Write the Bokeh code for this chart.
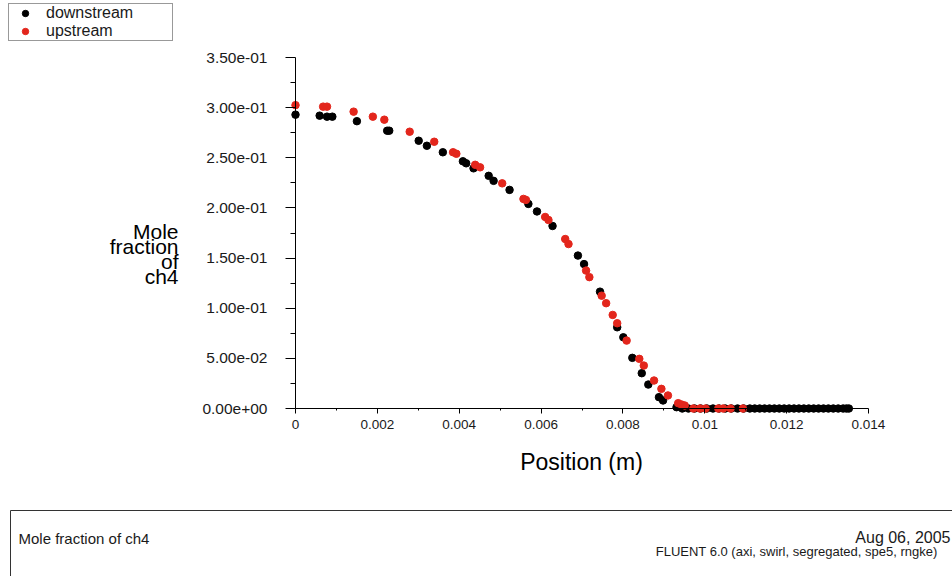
from bokeh.plotting import figure
from bokeh.models import (Range1d, FixedTicker, CustomJSTickFormatter, Label,
                          Legend, LegendItem, LinearAxis)
from bokeh.embed import file_html
from bokeh.resources import INLINE

FONT = "Liberation Sans"

# ---------------- data ----------------
down_x = [0.0, 0.00059, 0.00077, 0.0009, 0.0015, 0.00224, 0.00229, 0.00301,
          0.00321, 0.0036, 0.00409, 0.00417, 0.00435, 0.00472, 0.00484,
          0.00523, 0.00569, 0.0059, 0.00628, 0.0069, 0.00705, 0.00744,
          0.00786, 0.00801, 0.00823, 0.00846, 0.00862, 0.00888, 0.00898,
          0.00931, 0.00945, 0.0096, 0.00975, 0.0099, 0.01005, 0.0102,
          0.01035, 0.0105, 0.01065, 0.0108, 0.01095, 0.0111, 0.01122,
          0.01134, 0.01146, 0.01158, 0.0117, 0.01182, 0.01194, 0.01206,
          0.01218, 0.0123, 0.01242, 0.01254, 0.01266, 0.01278, 0.0129,
          0.01302, 0.01314, 0.01326, 0.01338, 0.01346, 0.01352]
down_y = [0.293, 0.292, 0.291, 0.291, 0.2865, 0.277, 0.277, 0.267,
          0.262, 0.2555, 0.2465, 0.2445, 0.2395, 0.232, 0.227,
          0.218, 0.204, 0.1965, 0.182, 0.1525, 0.144, 0.1165,
          0.081, 0.071, 0.0505, 0.0352, 0.0239, 0.0113, 0.008,
          0.0013, 0.0, 0.0, 0.0, 0.0, 0.0, 0.0,
          0.0, 0.0, 0.0, 0.0, 0.0, 0.0, 0.0,
          0.0, 0.0, 0.0, 0.0, 0.0, 0.0, 0.0,
          0.0, 0.0, 0.0, 0.0, 0.0, 0.0, 0.0,
          0.0, 0.0, 0.0, 0.0, 0.0, 0.0]

up_x = [0.0, 0.000675, 0.00077, 0.00142, 0.00189, 0.00217, 0.00279, 0.00339,
        0.00385, 0.00393, 0.00439, 0.00451, 0.00505, 0.00557, 0.00563,
        0.0061, 0.00618, 0.00659, 0.00667, 0.0071, 0.00718, 0.00748,
        0.00759, 0.00775, 0.00786, 0.00809, 0.0084, 0.00851, 0.00876,
        0.00894, 0.0091, 0.00935, 0.00943, 0.00951, 0.00972, 0.00988,
        0.01002, 0.01033, 0.01045, 0.01063, 0.01093]
up_y = [0.3025, 0.301, 0.301, 0.296, 0.291, 0.288, 0.276, 0.266,
        0.2555, 0.254, 0.243, 0.2405, 0.2245, 0.209, 0.208,
        0.191, 0.188, 0.169, 0.164, 0.1375, 0.131, 0.1125,
        0.105, 0.0933, 0.085, 0.0677, 0.0495, 0.0428, 0.0279,
        0.0196, 0.013, 0.0053, 0.004, 0.003, 0.0, 0.0,
        0.0, 0.0, 0.0, 0.0, 0.0]

series_names = ["downstream", "upstream"]
x_ticks = [0.0, 0.002, 0.004, 0.006, 0.008, 0.010, 0.012, 0.014]
x_minor = [0.001, 0.003, 0.005, 0.007, 0.009, 0.011, 0.013]
y_ticks = [0.0, 0.05, 0.10, 0.15, 0.20, 0.25, 0.30, 0.35]
y_minor = [0.025, 0.075, 0.125, 0.175, 0.225, 0.275, 0.325]
y_title_lines = ["Mole", "fraction", "of", "ch4"]
x_title = "Position (m)"
footer_left = "Mole fraction of ch4"
footer_date = "Aug 06, 2005"
footer_info = "FLUENT 6.0 (axi, swirl, segregated, spe5, rngke)"

# ---------------- page geometry (canvas px) ----------------
W, H = 952, 576
X0PX, X1PX = 295, 868      # where x = 0 and x = 0.014 fall
Y0PX, Y1PX = 408, 57       # where y = 0 and y = 0.35 fall
XMAX, YMAX = 0.014, 0.35
kx = XMAX / (X1PX - X0PX)
ky = YMAX / (Y0PX - Y1PX)
x_start, x_end = -X0PX * kx, XMAX + (W - X1PX) * kx
y_start, y_end = -(H - Y0PX) * ky, YMAX + Y1PX * ky


def dx(cx):
    return x_start + cx * kx


def dy(cy):
    return y_start + (H - cy) * ky


p = figure(width=W, height=H, output_backend="svg", toolbar_location=None,
           x_range=Range1d(x_start, x_end), y_range=Range1d(y_start, y_end),
           x_axis_location=None, y_axis_location=None,
           min_border=0, min_border_left=0, min_border_right=0,
           min_border_top=0, min_border_bottom=0)
p.xgrid.visible = False
p.ygrid.visible = False
p.outline_line_color = None
p.background_fill_color = "white"
p.border_fill_color = "white"

r_down = p.scatter(down_x, down_y, marker="circle", size=7.5,
                   fill_color="black", line_color="black")
r_up = p.scatter(up_x, up_y, marker="circle", size=7.5,
                 fill_color="#e3261c", line_color="#e3261c")

xa = LinearAxis(fixed_location=0, bounds=(0, XMAX))
xa.ticker = FixedTicker(ticks=x_ticks, minor_ticks=x_minor)
xa.formatter = CustomJSTickFormatter(code="return String(parseFloat(tick.toFixed(4)));")
xa.major_tick_out = 5
xa.major_tick_in = 0
xa.minor_tick_out = 2
xa.minor_tick_in = 0
xa.major_label_standoff = 6
xa.axis_line_color = "black"
xa.major_tick_line_color = "black"
xa.minor_tick_line_color = "black"
xa.major_label_text_font = FONT
xa.major_label_text_font_size = "13.5px"
xa.major_label_text_color = "#1a1a1a"
p.add_layout(xa, "below")

ya = LinearAxis(fixed_location=0, bounds=(0, YMAX))
ya.ticker = FixedTicker(ticks=y_ticks, minor_ticks=y_minor)
ya.formatter = CustomJSTickFormatter(code="""
if (Math.abs(tick) < 1e-12) { return "0.00e+00"; }
var e = Math.floor(Math.log10(Math.abs(tick)) + 1e-9);
var m = tick / Math.pow(10, e);
var s = e < 0 ? "-" : "+";
var a = Math.abs(e);
return m.toFixed(2) + "e" + s + (a < 10 ? "0" : "") + a;
""")
ya.major_tick_out = 10
ya.major_tick_in = 0
ya.minor_tick_out = 5
ya.minor_tick_in = 0
ya.major_label_standoff = 18
ya.axis_line_color = "black"
ya.major_tick_line_color = "black"
ya.minor_tick_line_color = "black"
ya.major_label_text_font = FONT
ya.major_label_text_font_size = "15.5px"
ya.major_label_text_color = "#1a1a1a"
p.add_layout(ya, "left")

# y axis title (stacked lines)
for line, base in zip(y_title_lines, [231, 246, 261, 276]):
    p.add_layout(Label(x=dx(178), y=dy(base), text=line, text_align="right",
                       text_baseline="alphabetic", text_font=FONT,
                       text_font_size="21px", text_color="black"))

# x axis title
p.add_layout(Label(x=dx(581), y=dy(461), text=x_title, text_align="center",
                   text_baseline="alphabetic", text_font=FONT,
                   text_font_size="23px", text_color="black"))

legend = Legend(items=[LegendItem(label=series_names[0], renderers=[r_down]),
                       LegendItem(label=series_names[1], renderers=[r_up])],
                location=(8, H - 41))
legend.border_line_color = "#333333"
legend.border_line_width = 1
legend.background_fill_color = "white"
legend.background_fill_alpha = 1.0
legend.padding = 0
legend.margin = 0
legend.spacing = -3
legend.glyph_width = 32
legend.glyph_height = 16
legend.label_height = 14
legend.label_width = 126
legend.label_standoff = 5
legend.label_text_font = FONT
legend.label_text_font_size = "16px"
legend.label_text_color = "#1a1a1a"
p.add_layout(legend)

# ---------------- footer box and texts ----------------
p.quad(left=[dx(10)], right=[dx(2000)], top=[dy(510)], bottom=[dy(900)],
       fill_color=None, line_color="#333333", line_width=1)
p.add_layout(Label(x=dx(18), y=dy(538), text=footer_left, text_align="left",
                   text_baseline="alphabetic", text_font=FONT,
                   text_font_size="15px", text_color="#1a1a1a"))
p.add_layout(Label(x=dx(950), y=dy(537), text=footer_date, text_align="right",
                   text_baseline="alphabetic", text_font=FONT,
                   text_font_size="16px", text_color="#1a1a1a"))
p.add_layout(Label(x=dx(937), y=dy(551), text=footer_info, text_align="right",
                   text_baseline="alphabetic", text_font=FONT,
                   text_font_size="13px", text_color="#1a1a1a"))

open("out.html", "w").write(file_html(p, INLINE))
